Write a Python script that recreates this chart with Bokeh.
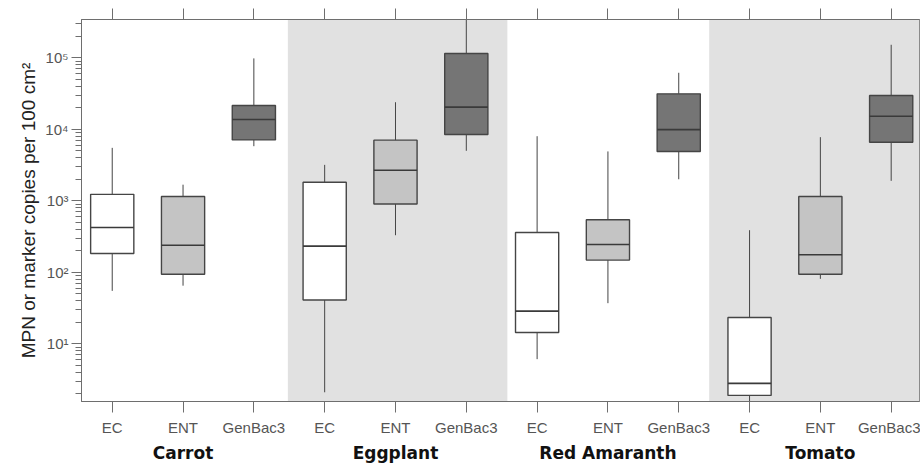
import numpy as np
from bokeh.plotting import figure
from bokeh.models import (Range1d, LinearAxis, FixedTicker, BoxAnnotation,
                          CustomJSTickFormatter, ColumnDataSource, LogTicker)
from bokeh.embed import file_html
from bokeh.resources import INLINE

# ---- data ----
vegetables = ["Carrot", "Eggplant", "Red Amaranth", "Tomato"]
markers = ["EC", "ENT", "GenBac3"]
whisker_low = [55, 65, 5800, 2.1, 330, 5000, 6.1, 37, 2000, 1.5, 81, 1900]
q1 = [183, 94, 7100, 41, 900, 8450, 14.4, 148, 4900, 1.9, 94, 6600]
median = [424, 239, 13700, 232, 2680, 20400, 28.6, 245, 9900, 2.8, 176, 15200]
q3 = [1230, 1150, 21500, 1820, 7050, 115000, 361, 542, 31300, 23.3, 1150, 29700]
whisker_high = [5500, 1680, 98000, 3180, 23900, 400000, 8000, 4900, 61700, 388, 7760, 152000]

marker_colors = {"EC": "#ffffff", "ENT": "#c4c4c4", "GenBac3": "#757575"}

# ---- derived ----
n = len(vegetables) * len(markers)
x = np.arange(n)
labels = [m for v in vegetables for m in markers]
colors = [marker_colors[m] for m in labels]
half = 0.305
src = ColumnDataSource(dict(x=x, lo=whisker_low, q1=q1, med=median, q3=q3,
                            hi=whisker_high, color=colors,
                            xl=x - half, xr=x + half))

AXIS = "#6e6e6e"
LINE = "#454545"
FONT = "Liberation Sans"

p = figure(width=920, height=466, y_axis_type="log",
           x_range=Range1d(-0.434, 11.40), y_range=Range1d(1.56, 3.43e5),
           output_backend="svg", toolbar_location=None,
           min_border_left=81, min_border_right=1, min_border_top=19,
           min_border_bottom=65)
p.grid.visible = False
p.outline_line_color = AXIS
p.outline_line_width = 1
p.background_fill_color = "white"

# shaded vegetable panels
for l, r in [(2.48, 5.58), (8.43, None)]:
    p.add_layout(BoxAnnotation(left=l, right=r, fill_color="#e1e1e1",
                               fill_alpha=1, line_color=None, level="underlay"))

# whiskers
p.segment(x0="x", y0="q3", x1="x", y1="hi", source=src, line_color=LINE, line_width=1)
p.segment(x0="x", y0="lo", x1="x", y1="q1", source=src, line_color=LINE, line_width=1)
# boxes
p.quad(left="xl", right="xr", bottom="q1", top="q3", source=src,
       fill_color="color", line_color=LINE, line_width=1.4)
# medians
p.segment(x0="xl", y0="med", x1="xr", y1="med", source=src,
          line_color="#3a3a3a", line_width=1.6)

# ---- x axis (markers) ----
xa = p.xaxis[0]
xa.ticker = FixedTicker(ticks=list(x))
xa.major_label_overrides = {int(i): lab for i, lab in zip(x, labels)}
xa.major_tick_out = 11
xa.major_tick_in = 0
xa.minor_tick_line_color = None
xa.axis_line_color = AXIS
xa.major_tick_line_color = AXIS
xa.major_label_text_font = FONT
xa.major_label_text_font_size = "15px"
xa.major_label_text_color = "#555555"
xa.major_label_standoff = 6

# group axis
ga = LinearAxis(ticker=FixedTicker(ticks=[1, 4, 7, 10]))
ga.major_label_overrides = {1: vegetables[0], 4: vegetables[1], 7: vegetables[2], 10: vegetables[3]}
ga.axis_line_color = None
ga.major_tick_line_color = None
ga.minor_tick_line_color = None
ga.major_tick_out = 0
ga.major_tick_in = 0
ga.major_label_standoff = 4
ga.major_label_text_font = "DejaVu Sans"
ga.major_label_text_font_style = "bold"
ga.major_label_text_font_size = "17px"
ga.major_label_text_color = "#111111"
p.add_layout(ga, "below")

# top axis (ticks only)
ta = LinearAxis(ticker=FixedTicker(ticks=list(x)))
ta.major_label_overrides = {int(i): "" for i in x}
ta.major_label_text_font_size = "1px"
ta.major_label_standoff = 0
ta.major_tick_out = 11
ta.major_tick_in = 0
ta.minor_tick_line_color = None
ta.axis_line_color = AXIS
ta.major_tick_line_color = AXIS
p.add_layout(ta, "above")

# ---- y axis ----
ya = p.yaxis[0]
ya.ticker = LogTicker(mantissas=[1], num_minor_ticks=10)
ya.formatter = CustomJSTickFormatter(code="""
const sup = {"0":"\u2070","1":"\u00b9","2":"\u00b2","3":"\u00b3","4":"\u2074",
             "5":"\u2075","6":"\u2076","7":"\u2077","8":"\u2078","9":"\u2079","-":"\u207b"};
const e = Math.round(Math.log10(tick));
return "10" + String(e).split("").map(c => sup[c]).join("");
""")
ya.axis_line_color = AXIS
ya.major_tick_line_color = AXIS
ya.minor_tick_line_color = AXIS
ya.major_tick_out = 10
ya.major_tick_in = 0
ya.minor_tick_out = 6
ya.minor_tick_in = 0
ya.major_label_standoff = 3
ya.major_label_text_font = FONT
ya.major_label_text_font_size = "15px"
ya.major_label_text_color = "#555555"
ya.axis_label = "MPN or marker copies per 100 cm\u00b2"
ya.axis_label_text_font = FONT
ya.axis_label_text_font_style = "normal"
ya.axis_label_text_font_size = "19px"
ya.axis_label_text_color = "#222222"
ya.axis_label_standoff = 3

open("out.html", "w").write(file_html(p, INLINE))
